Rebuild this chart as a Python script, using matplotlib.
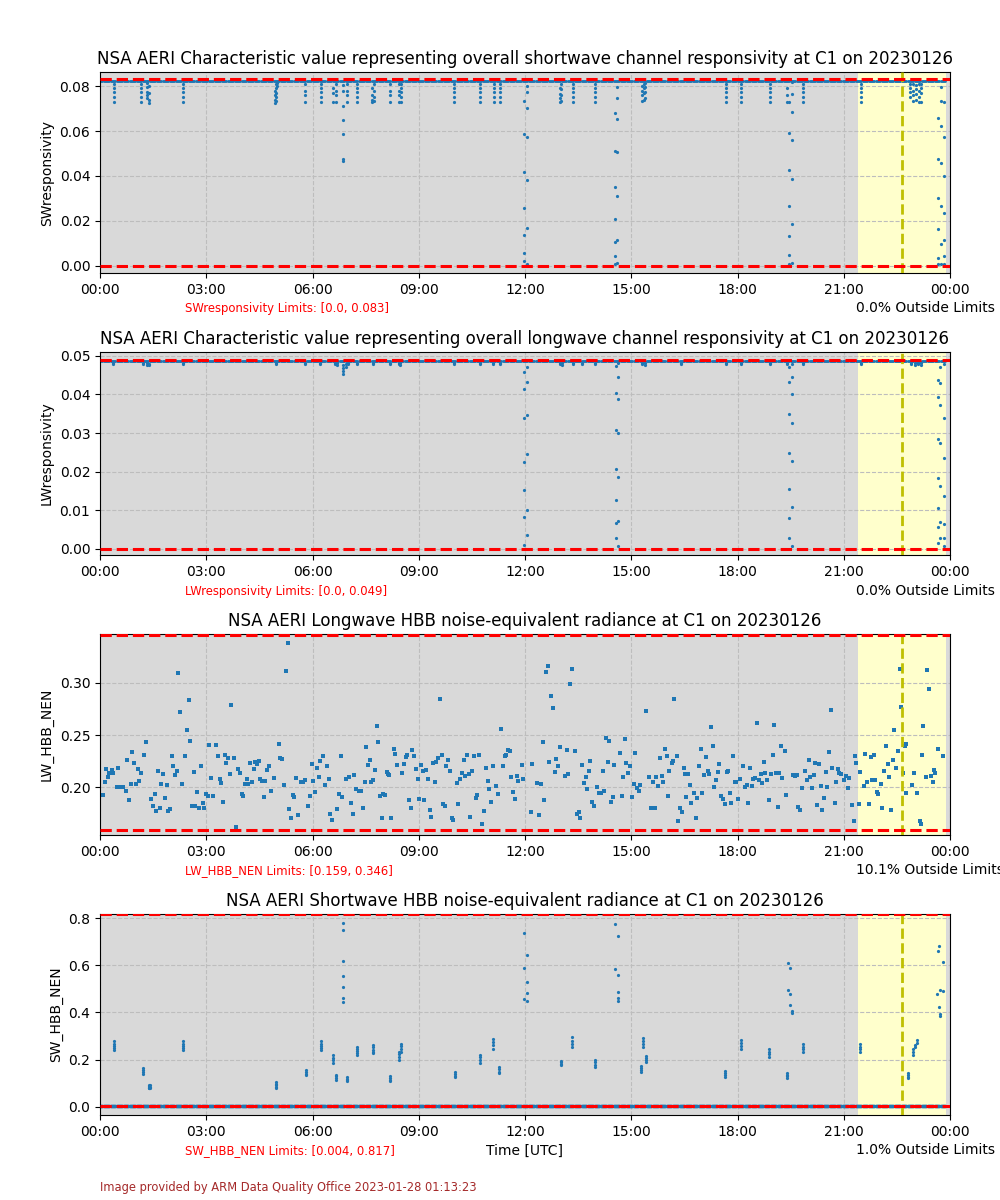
import numpy as np
import matplotlib
matplotlib.use('Agg')
import matplotlib.pyplot as plt

# ---------------------------------------------------------------------------
# Data (time in hours UTC on 20230126)

# dense sampling of the instrument (every 2 min) used for the steady baseline
base_times = np.arange(0, 23.88, 1 / 30)

# Panel 1: SW responsivity - baseline + dips
sw_resp_base = 0.0822
sw_dip_times = [0.40, 1.17, 1.32, 1.37, 2.35, 4.93, 4.97, 5.01, 5.80, 6.23, 6.58, 6.65,
                6.87, 6.97, 7.25, 7.68, 7.73, 8.20, 8.43, 8.49, 10.00, 10.73, 11.12,
                11.30, 11.97, 12.06, 12.98, 13.03, 13.35, 13.98, 14.54, 14.61, 15.30,
                15.35, 15.40, 17.67, 18.10, 18.92, 19.40, 19.46, 19.53, 19.86, 21.50,
                22.88, 22.96, 23.05, 23.12, 23.17, 23.65, 23.75, 23.84]
sw_dip_values = [
    [0.0808, 0.0790, 0.0772, 0.0750, 0.0727],
    [0.0808, 0.0790, 0.0772, 0.0750, 0.0727],
    [0.0812, 0.0795, 0.0775, 0.0760, 0.0745],
    [0.0800, 0.0770, 0.0740, 0.0725],
    [0.0808, 0.0790, 0.0772, 0.0750, 0.0727],
    [0.0780, 0.0760, 0.0740, 0.0725],
    [0.0810, 0.0790, 0.0770, 0.0750, 0.0735],
    [0.0815, 0.0800],
    [0.0808, 0.0780, 0.0760, 0.0727],
    [0.0808, 0.0790, 0.0772, 0.0750, 0.0727],
    [0.0790, 0.0770, 0.0727],
    [0.0808, 0.0780, 0.0760, 0.0727],
    [0.0805, 0.0778, 0.0710, 0.0650, 0.0585, 0.0475, 0.0465],
    [0.0810, 0.0780, 0.0760, 0.0727],
    [0.0808, 0.0790, 0.0772, 0.0750, 0.0727],
    [0.0790, 0.0760, 0.0740, 0.0730],
    [0.0808, 0.0780, 0.0750, 0.0735],
    [0.0808, 0.0780, 0.0760, 0.0727],
    [0.0808, 0.0780, 0.0760, 0.0727],
    [0.0808, 0.0790, 0.0772, 0.0750, 0.0727],
    [0.0808, 0.0790, 0.0772, 0.0750, 0.0727],
    [0.0808, 0.0790, 0.0772, 0.0750, 0.0727],
    [0.0808, 0.0790, 0.0772, 0.0750, 0.0727],
    [0.0808, 0.0790, 0.0772, 0.0750, 0.0727],
    [0.0734, 0.0587, 0.0417, 0.0259, 0.0138, 0.0057, 0.0020],
    [0.0800, 0.0772, 0.0704, 0.0574, 0.0381, 0.0169, 0.0010],
    [0.0790, 0.0765, 0.0745, 0.0730],
    [0.0810, 0.0785, 0.0760, 0.0735],
    [0.0808, 0.0790, 0.0772, 0.0750, 0.0727],
    [0.0808, 0.0790, 0.0772, 0.0750, 0.0727],
    [0.0682, 0.0512, 0.0351, 0.0210, 0.0108, 0.0042, 0.0010],
    [0.0797, 0.0748, 0.0655, 0.0508, 0.0313, 0.0115, 0.0015],
    [0.0800, 0.0780, 0.0760, 0.0735],
    [0.0810, 0.0790, 0.0770, 0.0740],
    [0.0812, 0.0795, 0.0775, 0.0745],
    [0.0808, 0.0790, 0.0772, 0.0750, 0.0727],
    [0.0808, 0.0790, 0.0772, 0.0750, 0.0727],
    [0.0808, 0.0790, 0.0772, 0.0750, 0.0727],
    [0.0790, 0.0760, 0.0730],
    [0.0727, 0.0592, 0.0426, 0.0268, 0.0133, 0.0048, 0.0009],
    [0.0817, 0.0764, 0.0686, 0.0560, 0.0385, 0.0187, 0.0015],
    [0.0808, 0.0790, 0.0772, 0.0750, 0.0727],
    [0.0808, 0.0790, 0.0772, 0.0750, 0.0727],
    [0.0808, 0.0790, 0.0772, 0.0750],
    [0.0808, 0.0780, 0.0760, 0.0735],
    [0.0805, 0.0785, 0.0765, 0.0740],
    [0.0808, 0.0780, 0.0750, 0.0727],
    [0.0810, 0.0790, 0.0770, 0.0730],
    [0.0659, 0.0475, 0.0300, 0.0165, 0.0037, 0.0010],
    [0.0794, 0.0734, 0.0622, 0.0457, 0.0265, 0.0097, 0.0010],
    [0.0727, 0.0574, 0.0400, 0.0237, 0.0115, 0.0045, 0.0010],
]

# Panel 2: LW responsivity - baseline + dips
lw_resp_base = 0.0486
lw_dip_times = [0.37, 1.20, 1.33, 1.38, 2.35, 4.97, 5.80, 6.22, 6.63, 6.68, 6.87, 6.95,
                7.00, 7.25, 7.70, 8.20, 8.43, 8.48, 10.00, 10.73, 11.10, 11.30, 11.98,
                12.05, 13.00, 13.05, 13.35, 13.60, 13.98, 14.57, 14.63, 15.30, 15.38,
                16.40, 17.67, 18.10, 18.92, 19.40, 19.46, 19.53, 19.85, 21.50, 22.90,
                23.00, 23.10, 23.17, 23.66, 23.73, 23.84]
lw_dip_values = [
    [0.0481, 0.0478], [0.0481, 0.0478], [0.0481, 0.0477], [0.0480, 0.0477],
    [0.0481, 0.0478], [0.0481, 0.0478], [0.0481, 0.0478], [0.0481, 0.0478],
    [0.0481, 0.0478], [0.0481, 0.0477],
    [0.0475, 0.0468, 0.0460, 0.0452],
    [0.0478, 0.0472],
    [0.0481, 0.0478], [0.0481, 0.0478], [0.0481, 0.0478], [0.0481, 0.0478],
    [0.0481, 0.0478], [0.0481, 0.0477], [0.0481, 0.0478], [0.0481, 0.0478],
    [0.0481, 0.0478], [0.0481, 0.0478],
    [0.0457, 0.0415, 0.0338, 0.0224, 0.0153, 0.0082, 0.0011],
    [0.0470, 0.0433, 0.0347, 0.0246, 0.0100, 0.0036],
    [0.0481, 0.0478], [0.0481, 0.0477], [0.0481, 0.0478], [0.0481, 0.0478],
    [0.0481, 0.0478],
    [0.0473, 0.0404, 0.0307, 0.0208, 0.0126, 0.0067, 0.0028],
    [0.0482, 0.0444, 0.0388, 0.0301, 0.0187, 0.0071, 0.0008],
    [0.0481, 0.0478], [0.0481, 0.0477], [0.0481, 0.0478], [0.0481, 0.0478],
    [0.0481, 0.0478], [0.0481, 0.0478], [0.0481, 0.0478],
    [0.0470, 0.0433, 0.0348, 0.0248, 0.0155, 0.0079, 0.0028],
    [0.0478, 0.0446, 0.0401, 0.0327, 0.0227, 0.0108, 0.0008],
    [0.0481, 0.0478], [0.0481, 0.0478], [0.0481, 0.0478], [0.0481, 0.0477],
    [0.0481, 0.0478], [0.0481, 0.0477],
    [0.0436, 0.0393, 0.0285, 0.0184, 0.0105, 0.0056, 0.0014],
    [0.0470, 0.0430, 0.0373, 0.0274, 0.0163, 0.0069, 0.0027],
    [0.0480, 0.0338, 0.0235, 0.0137, 0.0065, 0.0027, 0.0008],
]

# Panel 3: LW HBB NEN scattered samples
lw_nen_times = [
    0.08, 0.13, 0.17, 0.22, 0.26, 0.33, 0.38, 0.47, 0.52, 0.57, 0.61, 0.66, 0.73, 0.77,
    0.82, 0.88, 0.91, 0.96, 1.01, 1.06, 1.10, 1.15, 1.24, 1.30, 1.44, 1.50, 1.55, 1.58,
    1.64, 1.69, 1.73, 1.78, 1.84, 1.88, 1.93, 1.98, 2.02, 2.07, 2.12, 2.17, 2.21, 2.26,
    2.32, 2.40, 2.45, 2.50, 2.55, 2.60, 2.65, 2.69, 2.74, 2.80, 2.85, 2.90, 2.95, 2.98,
    3.04, 3.08, 3.13, 3.19, 3.28, 3.33, 3.38, 3.42, 3.47, 3.52, 3.56, 3.61, 3.67, 3.70,
    3.77, 3.85, 3.90, 3.95, 4.01, 4.05, 4.09, 4.14, 4.19, 4.24, 4.29, 4.34, 4.38, 4.42,
    4.48, 4.52, 4.57, 4.63, 4.67, 4.72, 4.77, 4.83, 4.90, 5.05, 5.09, 5.13, 5.20, 5.24,
    5.30, 5.34, 5.39, 5.44, 5.49, 5.53, 5.58, 5.68, 5.73, 5.79, 5.87, 5.92, 5.98, 6.01,
    6.07, 6.12, 6.17, 6.21, 6.31, 6.35, 6.41, 6.46, 6.49, 6.55, 6.69, 6.74, 6.80, 6.83,
    6.94, 7.03, 7.09, 7.14, 7.18, 7.23, 7.32, 7.38, 7.43, 7.49, 7.51, 7.57, 7.62, 7.64,
    7.70, 7.77, 7.81, 7.85, 7.91, 7.96, 7.98, 8.05, 8.09, 8.15,
    8.12, 8.23, 8.30, 8.33, 8.39, 8.53, 8.58, 8.64, 8.67, 8.72, 8.78, 8.81, 8.87, 8.92,
    8.97, 9.01, 9.06, 9.11, 9.15, 9.20, 9.26, 9.31, 9.35, 9.40, 9.46, 9.49, 9.54, 9.60,
    9.65, 9.68, 9.74, 9.78, 9.83, 9.88, 9.94, 9.97, 10.07, 10.12, 10.17, 10.22, 10.27,
    10.31, 10.36, 10.42, 10.46, 10.50, 10.55, 10.62, 10.64, 10.70, 10.79, 10.84, 10.90,
    10.95, 10.99, 11.04, 11.10, 11.18, 11.24, 11.31, 11.38, 11.43, 11.46, 11.53, 11.58,
    11.61, 11.66, 11.72, 11.76, 11.81, 11.91, 11.94, 12.16, 12.20, 12.34, 12.39, 12.45,
    12.51, 12.55, 12.59, 12.64, 12.69, 12.73, 12.79, 12.84, 12.87, 12.93, 12.98, 13.12,
    13.18, 13.21, 13.27, 13.33, 13.41, 13.46, 13.52, 13.56, 13.60, 13.67, 13.71, 13.75,
    13.80, 13.84, 13.90, 13.95, 14.04, 14.10, 14.15, 14.19, 14.23, 14.29, 14.34, 14.37,
    14.43, 14.48, 14.52, 14.68, 14.73, 14.77, 14.82, 14.86, 14.92, 14.96, 15.02, 15.07,
    15.11, 15.16, 15.22, 15.26, 15.42, 15.49, 15.56, 15.61, 15.66, 15.71, 15.75, 15.81,
    15.86, 15.91, 15.94, 16.00, 16.04, 16.08, 16.14, 16.18, 16.21,
    16.29, 16.33, 16.37, 16.42, 16.48, 16.52, 16.56, 16.61, 16.67, 16.70, 16.77, 16.82,
    16.85, 16.90, 16.96, 17.00, 17.05, 17.10, 17.16, 17.19, 17.25, 17.30, 17.34, 17.39,
    17.44, 17.49, 17.53, 17.59, 17.64, 17.69, 17.74, 17.79, 17.82, 17.87, 17.93, 17.97,
    18.01, 18.07, 18.15, 18.21, 18.26, 18.31, 18.36, 18.40, 18.45, 18.50, 18.55, 18.60,
    18.65, 18.69, 18.74, 18.79, 18.84, 18.89, 18.94, 18.99, 19.03, 19.08, 19.14, 19.18,
    19.22, 19.27, 19.33, 19.37, 19.56, 19.61, 19.67, 19.72, 19.76, 19.81, 19.90, 19.96,
    20.01, 20.06, 20.10, 20.15, 20.20, 20.25, 20.29, 20.35, 20.40, 20.44, 20.50, 20.54,
    20.58, 20.63, 20.68, 20.74, 20.78, 20.83, 20.87, 20.93, 21.01, 21.06, 21.11, 21.15,
    21.22, 21.28, 21.32, 21.36, 21.42, 21.45, 21.56, 21.61, 21.65, 21.70, 21.76, 21.80,
    21.84, 21.88, 21.94, 21.98, 22.04, 22.09, 22.13, 22.18, 22.24, 22.28, 22.34, 22.38,
    22.43, 22.47, 22.52, 22.58, 22.61, 22.66, 22.72, 22.77, 22.76, 22.92, 22.97, 23.06,
    23.15, 23.17, 23.21, 23.25, 23.31, 23.36, 23.40, 23.45, 23.51, 23.55, 23.59, 23.65,
    23.80,
]
lw_nen_values = [
    0.193, 0.205, 0.218, 0.210, 0.214, 0.217, 0.214, 0.200, 0.219, 0.200, 0.200, 0.200,
    0.197, 0.226, 0.188, 0.203, 0.234, 0.223, 0.203, 0.218, 0.206, 0.214, 0.231, 0.243,
    0.189, 0.182, 0.194, 0.177, 0.216, 0.180, 0.203, 0.213, 0.190, 0.202, 0.177, 0.179,
    0.230, 0.220, 0.212, 0.216, 0.309, 0.272, 0.203, 0.230, 0.255, 0.284, 0.244, 0.182,
    0.215, 0.182, 0.196, 0.180, 0.220, 0.185, 0.180, 0.194, 0.192, 0.241, 0.209, 0.192,
    0.241, 0.230, 0.208, 0.204, 0.186, 0.231, 0.223, 0.228, 0.213, 0.279, 0.228, 0.162,
    0.218, 0.214, 0.194, 0.192, 0.203, 0.208, 0.203, 0.223, 0.205, 0.218, 0.224, 0.222,
    0.225, 0.208, 0.206, 0.191, 0.206, 0.217, 0.220, 0.197, 0.209, 0.242, 0.228, 0.227,
    0.202, 0.311, 0.338, 0.179, 0.171, 0.193, 0.191, 0.209, 0.174, 0.205, 0.205, 0.207,
    0.182, 0.192, 0.222, 0.206, 0.196, 0.219, 0.210, 0.225, 0.230, 0.202, 0.220, 0.208,
    0.175, 0.169, 0.179, 0.194, 0.230, 0.191, 0.208, 0.210, 0.185, 0.175, 0.212, 0.198,
    0.197, 0.197, 0.180, 0.205, 0.239, 0.221, 0.226, 0.205, 0.207, 0.217, 0.259, 0.243,
    0.192, 0.171, 0.194, 0.193, 0.215, 0.212,
    0.213, 0.171, 0.237, 0.232, 0.221, 0.214, 0.222, 0.229, 0.231, 0.188, 0.180, 0.236,
    0.230, 0.218, 0.208, 0.189, 0.221, 0.216, 0.188, 0.217, 0.208, 0.178, 0.172, 0.223,
    0.205, 0.224, 0.228, 0.285, 0.231, 0.184, 0.182, 0.220, 0.226, 0.216, 0.171, 0.169,
    0.204, 0.184, 0.208, 0.214, 0.226, 0.211, 0.231, 0.213, 0.172, 0.216, 0.230, 0.190,
    0.193, 0.231, 0.165, 0.177, 0.219, 0.206, 0.198, 0.186, 0.220, 0.201, 0.194, 0.256,
    0.220, 0.230, 0.231, 0.236, 0.235, 0.210, 0.196, 0.189, 0.211, 0.206, 0.221, 0.208,
    0.176, 0.222, 0.204, 0.174, 0.203, 0.243, 0.188, 0.310, 0.316, 0.224, 0.287, 0.276,
    0.215, 0.227, 0.220, 0.239, 0.211, 0.236, 0.213, 0.299, 0.313, 0.235, 0.175, 0.176,
    0.171, 0.221, 0.204, 0.210, 0.198, 0.216, 0.225, 0.186, 0.182, 0.200, 0.195, 0.195,
    0.216, 0.197, 0.247, 0.224, 0.244, 0.186, 0.191, 0.221, 0.233, 0.192, 0.210, 0.246,
    0.223, 0.214, 0.220, 0.191, 0.203, 0.233, 0.199, 0.197, 0.202, 0.273, 0.210, 0.180,
    0.205, 0.180, 0.210, 0.201, 0.228, 0.211, 0.205, 0.237, 0.230, 0.192, 0.216, 0.223,
    0.225, 0.285,
    0.230, 0.168, 0.180, 0.176, 0.219, 0.213, 0.191, 0.213, 0.202, 0.185, 0.195, 0.171,
    0.190, 0.220, 0.237, 0.195, 0.212, 0.229, 0.216, 0.213, 0.258, 0.240, 0.200, 0.207,
    0.215, 0.222, 0.192, 0.189, 0.184, 0.215, 0.216, 0.195, 0.185, 0.230, 0.205, 0.205,
    0.189, 0.208, 0.220, 0.200, 0.202, 0.185, 0.219, 0.201, 0.208, 0.209, 0.262, 0.207,
    0.213, 0.204, 0.224, 0.214, 0.207, 0.188, 0.213, 0.231, 0.260, 0.214, 0.181, 0.214,
    0.240, 0.209, 0.235, 0.193, 0.212, 0.211, 0.212, 0.181, 0.178, 0.199, 0.216, 0.207,
    0.226, 0.210, 0.199, 0.212, 0.223, 0.183, 0.222, 0.201, 0.178, 0.190, 0.215, 0.200,
    0.234, 0.274, 0.219, 0.185, 0.205, 0.218, 0.214, 0.213, 0.207, 0.211, 0.199, 0.209,
    0.183, 0.168, 0.230, 0.223, 0.184, 0.215, 0.201, 0.232, 0.205, 0.184, 0.229, 0.207,
    0.231, 0.207, 0.196, 0.194, 0.203, 0.180, 0.216, 0.240, 0.222, 0.210, 0.178, 0.226,
    0.255, 0.219, 0.235, 0.313, 0.277, 0.214, 0.240, 0.242, 0.195, 0.202, 0.214, 0.195,
    0.168, 0.165, 0.231, 0.259, 0.210, 0.312, 0.294, 0.211, 0.205, 0.217, 0.214, 0.237,
    0.230,
]

# Panel 4: SW HBB NEN - baseline + short excursions
sw_nen_base = 0.004
sw_nen_times = [0.40, 1.20, 1.37, 1.40, 2.35, 4.96, 5.83, 6.25, 6.59, 6.65, 6.87, 6.98,
                7.27, 7.72, 8.19, 8.45, 8.49, 10.01, 10.73, 11.11, 11.27, 11.97, 12.06,
                13.01, 13.34, 13.98, 14.53, 14.62, 15.28, 15.32, 15.43, 17.64, 18.09,
                18.90, 19.39, 19.43, 19.48, 19.53, 19.84, 21.45, 22.80, 22.96, 23.02,
                23.07, 23.63, 23.65, 23.70, 23.71, 23.80]
sw_nen_values = [
    [0.278, 0.268, 0.258, 0.248, 0.240],
    [0.162, 0.155, 0.148, 0.140],
    [0.091, 0.087, 0.083, 0.080, 0.077],
    [0.090, 0.085, 0.080],
    [0.278, 0.268, 0.258, 0.248, 0.240],
    [0.105, 0.097, 0.090, 0.083, 0.077],
    [0.155, 0.148, 0.140, 0.133],
    [0.278, 0.268, 0.258, 0.248, 0.240],
    [0.218, 0.208, 0.198, 0.187],
    [0.136, 0.128, 0.120, 0.115],
    [0.782, 0.752, 0.620, 0.556, 0.509, 0.462, 0.443],
    [0.126, 0.119, 0.112, 0.108],
    [0.254, 0.245, 0.235, 0.226, 0.218],
    [0.261, 0.252, 0.242, 0.232, 0.226],
    [0.129, 0.122, 0.115, 0.109],
    [0.233, 0.222, 0.211, 0.200],
    [0.268, 0.256, 0.245, 0.233],
    [0.148, 0.140, 0.132, 0.124],
    [0.220, 0.209, 0.198, 0.187],
    [0.288, 0.274, 0.260, 0.245],
    [0.167, 0.158, 0.149, 0.141],
    [0.740, 0.590, 0.459],
    [0.644, 0.530, 0.483, 0.449],
    [0.195, 0.188, 0.181, 0.177],
    [0.294, 0.280, 0.266, 0.252],
    [0.198, 0.188, 0.177, 0.167],
    [0.778, 0.586],
    [0.726, 0.559, 0.488, 0.462, 0.448],
    [0.172, 0.164, 0.156, 0.148],
    [0.291, 0.278, 0.265, 0.252],
    [0.217, 0.208, 0.199, 0.190],
    [0.151, 0.143, 0.135, 0.127],
    [0.284, 0.271, 0.257, 0.244],
    [0.245, 0.234, 0.223, 0.212],
    [0.144, 0.136, 0.128, 0.120],
    [0.612, 0.495],
    [0.587, 0.478, 0.430],
    [0.408, 0.396],
    [0.267, 0.255, 0.243, 0.231],
    [0.267, 0.255, 0.243, 0.231],
    [0.141, 0.134, 0.127, 0.120],
    [0.220, 0.232, 0.244],
    [0.255, 0.262],
    [0.270, 0.281],
    [0.478],
    [0.661],
    [0.683, 0.422],
    [0.497, 0.393, 0.383],
    [0.614, 0.490],
]

titles = [
    'NSA AERI Characteristic value representing overall shortwave channel responsivity at C1 on 20230126',
    'NSA AERI Characteristic value representing overall longwave channel responsivity at C1 on 20230126',
    'NSA AERI Longwave HBB noise-equivalent radiance at C1 on 20230126',
    'NSA AERI Shortwave HBB noise-equivalent radiance at C1 on 20230126',
]
ylabels = ['SWresponsivity', 'LWresponsivity', 'LW_HBB_NEN', 'SW_HBB_NEN']
limits = [(0.0, 0.083), (0.0, 0.049), (0.159, 0.346), (0.004, 0.817)]
outside_pct = ['0.0%', '0.0%', '10.1%', '1.0%']
xtick_hours = [0, 3, 6, 9, 12, 15, 18, 21, 24]

flag_start, flag_end = 21.4, 23.88
flag_line = 22.64


def expand(times, groups):
    t, v = [], []
    for ti, g in zip(times, groups):
        t += [ti] * len(g)
        v += g
    return t, v


# ---------------------------------------------------------------------------
fig = plt.figure(figsize=(10, 12), dpi=100)
positions = [
    [0.10, 0.7725, 0.85, 0.1675],
    [0.10, 0.5375, 0.85, 0.1692],
    [0.10, 0.3042, 0.85, 0.1675],
    [0.10, 0.0708, 0.85, 0.1675],
]
blue = '#1f77b4'

for i, pos in enumerate(positions):
    ax = fig.add_axes(pos)
    ax.set_facecolor('#d9d9d9')
    ax.axvspan(flag_start, flag_end, color='#ffffcc', zorder=1, lw=0)
    ax.grid(True, linestyle='--', color='#bdbdbd', linewidth=0.8)

    if i == 0:
        ax.plot(base_times, np.full(len(base_times), sw_resp_base), 'o', color=blue, ms=2, mew=0)
        t, v = expand(sw_dip_times, sw_dip_values)
        ax.plot(t, v, 'o', color=blue, ms=2.3, mew=0)
    elif i == 1:
        ax.plot(base_times, np.full(len(base_times), lw_resp_base), 'o', color=blue, ms=2, mew=0)
        t, v = expand(lw_dip_times, lw_dip_values)
        ax.plot(t, v, 'o', color=blue, ms=2.3, mew=0)
    elif i == 2:
        ax.plot(lw_nen_times, lw_nen_values, 's', color=blue, ms=2.8, mew=0)
    else:
        ax.plot(base_times, np.full(len(base_times), sw_nen_base), 'o', color=blue, ms=2.6, mew=0)
        t, v = expand(sw_nen_times, sw_nen_values)
        ax.plot(t, v, 'o', color=blue, ms=2.3, mew=0)

    lo, hi = limits[i]
    ax.axhline(lo, color='red', linestyle='--', linewidth=2.2, zorder=4)
    ax.axhline(hi, color='red', linestyle='--', linewidth=2.2, zorder=4)
    ax.axvline(flag_line, color='#bfbf00', linestyle='--', linewidth=2, zorder=3)

    ax.set_xlim(0, 24)
    if i == 2:
        ax.set_ylim(0.1545, 0.3468)
    elif i == 3:
        ax.set_ylim(-0.036, 0.8185)
    ax.set_xticks(xtick_hours)
    ax.set_xticklabels(['%02d:00' % (h % 24) for h in xtick_hours])
    ax.set_title(titles[i], fontsize=12)
    ax.set_ylabel(ylabels[i])

    ax.text(0.1, -0.178, '%s Limits: [%s, %s]' % (ylabels[i], lo, hi), transform=ax.transAxes,
            color='red', fontsize=8.4, va='center')
    ax.text(0.889, -0.175, '%s Outside Limits' % outside_pct[i], transform=ax.transAxes,
            fontsize=10, va='center')
    if i == 3:
        ax.set_xlabel('Time [UTC]')

fig.text(0.1, 1 - 1188 / 1200, 'Image provided by ARM Data Quality Office 2023-01-28 01:13:23',
         color='brown', fontsize=8.3, va='center')

fig.savefig('out.png', dpi=100)
